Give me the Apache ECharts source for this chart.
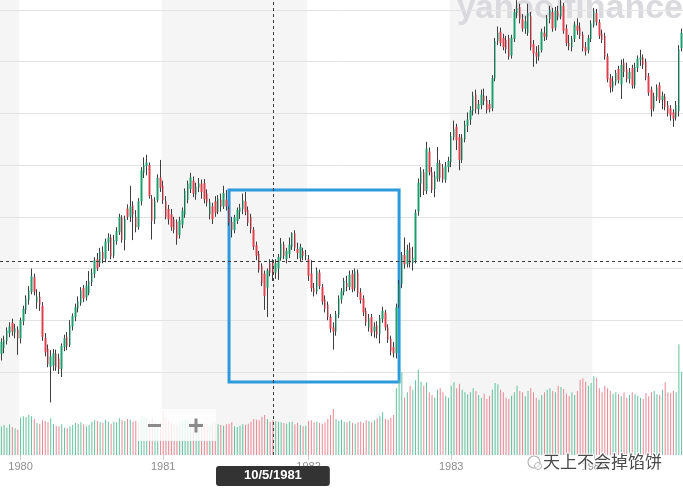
<!DOCTYPE html>
<html><head><meta charset="utf-8">
<script src="https://cdn.jsdelivr.net/npm/echarts@6/dist/echarts.min.js"></script>
<style>html,body{margin:0;padding:0;background:#fff}#c{width:683px;height:491px}</style>
</head><body><div id="c"></div>
<script>
// ---- categories: weekly candles, first week starting 1979-11-12 ----
const firstWeek = '1979-11-12';
const weekCount = 249;
const yearTickWeeks = ['1979-12-31','1980-12-29','1982-01-04','1983-01-03','1984-01-02'];
const yearLabels = ['1980','1981','1982','1983','1984'];
const crosshairWeek = '1981-10-05';
const crosshairPrice = 121.45;
const boxStart = ['1981-06-15', 135.2];
const boxEnd = ['1982-08-23', 98.05];

// ---- weekly [open, close, low, high] ----
const ohlc1980 = [
[103.5,105.8,102.2,106.5],[104.6,106.2,103.6,107.0],[106.0,108.0,105.3,108.6],[107.5,108.8,106.7,109.6],[109.5,107.8,107.0,110.3],
[107.6,108.4,106.5,109.3],[108.2,106.5,103.3,108.8],[106.5,110.0,105.5,110.5],[109.8,112.2,109.0,112.8],[112.0,114.2,111.2,114.8],
[113.8,115.7,113.0,116.6],[115.5,118.5,115.0,120.0],[118.3,115.5,114.8,119.0],[113.4,114.6,112.2,116.0],[114.5,113.0,111.8,115.5],
[112.8,106.8,106.0,113.5],[106.6,103.8,103.0,107.5],[104.5,101.5,100.9,105.3],[101.0,103.0,94.1,104.2],[101.2,103.6,100.2,104.4],
[103.5,100.9,100.2,104.3],[102.6,100.5,99.6,103.5],[100.6,105.0,99.0,105.5],[104.8,106.5,104.0,107.2],[106.8,105.0,104.2,107.7],
[105.2,109.0,104.8,110.0],[108.8,110.8,108.0,111.3],[110.6,112.5,109.8,113.2],[112.3,113.6,111.5,114.6],[113.3,115.8,112.8,116.4],
[116.2,114.2,113.5,116.8],[114.4,116.7,113.8,117.6],[115.2,117.6,114.8,119.5],[117.4,119.2,116.6,120.0],[119.0,121.6,118.2,122.2],
[121.8,120.0,119.5,123.0],[121.0,123.3,120.3,124.0],[123.2,121.8,121.0,124.3],[121.9,125.2,121.2,125.8],[125.0,126.0,123.4,126.8],
[126.0,122.3,121.8,126.6],[122.5,125.5,122.0,126.5],[125.3,127.2,124.6,128.0],[127.0,130.0,126.5,130.6],[129.8,125.5,125.0,130.3],
[125.5,129.6,123.5,130.2],[131.6,130.0,129.4,132.4],[130.0,132.0,129.0,136.0],[132.2,130.4,125.5,133.0],[130.0,128.0,127.0,131.3],
[128.0,133.0,127.5,133.6],[133.0,139.0,132.2,139.6],[138.5,140.0,137.5,141.5],[139.8,140.5,138.0,142.0],[140.0,134.0,133.5,140.5],
[133.5,129.2,125.6,134.2],[129.5,133.0,128.6,133.8],[133.2,137.5,132.8,138.2],[137.6,135.6,134.8,141.0]
];
const ohlc1981 = [
[136.0,133.2,132.5,137.0],[133.0,130.0,129.5,134.0],[131.5,129.5,128.5,132.3],[130.5,128.0,127.3,131.5],[129.5,127.5,126.8,130.0],
[129.0,125.8,124.6,129.5],[126.5,129.3,125.8,130.0],[128.5,131.2,127.8,131.8],[130.4,135.0,129.8,135.5],[133.3,136.4,132.6,137.0],
[135.4,137.6,134.6,138.5],[137.0,134.5,133.8,137.8],[134.3,135.8,133.3,136.6],[135.6,136.5,134.8,137.5],[136.4,134.8,133.5,137.2],
[136.5,133.4,132.6,137.3],[134.5,132.8,132.0,135.3],[130.5,132.8,129.5,133.5],[132.0,129.5,128.6,132.7],[133.0,130.8,130.0,134.0],
[131.0,133.5,130.5,134.2],[133.3,132.0,131.0,134.5],[132.0,134.6,131.5,136.0],[133.3,132.0,131.2,135.2],[131.5,128.8,128.3,132.0],
[129.0,127.5,126.0,130.0],[127.4,129.9,126.8,130.4],[129.2,131.3,128.6,131.8],[131.0,131.8,129.6,132.5],[131.5,133.2,130.5,134.5],
[133.0,131.0,130.3,134.8],[131.3,128.8,128.2,132.0],[130.0,127.6,126.8,130.6],[127.5,124.2,123.6,128.0],[124.5,122.5,121.6,125.2],
[122.8,119.8,119.2,123.4],[120.5,117.2,116.6,121.0],[119.0,114.7,112.0,119.6],[116.3,119.6,110.6,120.0],[121.0,119.2,118.5,121.8],
[121.2,118.8,117.6,121.8],[119.2,121.0,118.0,121.8],[120.0,122.2,117.8,122.8],[122.0,124.8,121.5,125.9],[124.6,122.4,121.8,125.2],
[121.8,123.4,121.0,124.0],[122.8,124.6,122.0,126.0],[124.2,126.8,123.6,127.0],[126.8,124.0,123.4,127.4],[123.8,123.0,121.8,125.0],
[122.0,124.2,121.4,124.8],[123.4,122.4,121.6,124.0]
];
const ohlc1982 = [
[122.4,122.6,121.6,123.6],[121.8,118.6,117.6,122.6],[119.0,116.2,115.5,121.6],[116.2,115.4,114.6,117.2],[115.5,119.6,115.0,120.2],
[119.2,116.6,116.0,119.8],[116.4,113.6,113.0,117.0],[114.0,112.2,111.5,114.8],[113.0,110.6,110.0,113.6],[110.6,108.4,107.6,111.2],
[108.6,107.8,104.3,109.6],[107.8,111.2,107.0,111.8],[111.0,114.2,110.4,114.8],[114.0,115.6,113.2,116.2],[115.4,117.6,114.8,118.2],
[117.2,116.4,115.6,118.6],[116.4,118.8,115.8,119.6],[119.0,116.0,115.4,119.7],[116.2,119.4,115.6,120.0],[119.2,115.2,114.5,119.8],
[115.4,113.9,113.2,116.2],[114.2,111.5,110.8,114.8],[111.8,109.5,108.9,112.4],[108.6,110.4,107.8,111.2],[110.6,107.6,106.9,111.2],
[107.8,108.8,106.6,109.6],[109.0,107.2,106.5,109.8],[107.4,110.4,105.5,111.0],[110.2,111.8,109.5,112.6],[111.5,108.6,108.0,112.0],
[108.6,106.2,105.6,109.2],[106.4,104.0,103.2,107.0],[104.8,103.6,102.8,105.8],[103.6,112.5,102.6,113.2],[113.0,117.0,112.4,117.8],
[117.0,122.6,116.2,123.2],[122.6,120.8,120.0,126.0],[120.8,123.6,120.2,124.6],[124.0,121.0,120.2,125.0],[121.0,122.0,119.6,124.2],
[121.6,130.8,121.0,131.4],[131.0,136.6,130.2,137.4],[136.4,138.8,133.8,139.6],[138.6,135.0,134.2,139.2],[135.0,143.2,134.4,144.5],
[142.6,138.6,138.0,143.4],[138.6,135.2,134.6,139.6],[135.4,137.8,133.8,138.8],[137.4,140.4,136.8,143.5],[140.4,137.5,136.8,141.0],
[139.5,137.2,136.6,140.2],[137.2,139.8,136.6,140.6]
];
const ohlc1983 = [
[139.6,140.8,138.6,141.6],[140.6,145.6,139.6,146.4],[145.4,147.0,144.8,148.6],[147.4,144.8,142.9,148.0],[145.4,141.0,139.0,146.0],
[141.0,145.2,140.4,146.0],[145.0,147.8,144.4,148.6],[147.6,148.8,146.4,150.2],[148.8,150.6,147.8,151.4],[150.4,153.4,149.6,154.2],
[153.6,150.8,150.0,154.6],[150.8,151.8,149.8,152.6],[151.6,153.6,150.8,154.6],[153.4,152.4,151.6,154.8],[152.6,150.6,150.0,153.4],
[151.8,150.8,150.2,152.6],[151.0,156.8,150.4,157.4],[156.8,164.0,156.2,164.6],[164.0,165.6,163.2,166.8],[165.8,163.6,163.0,166.6],
[164.6,162.8,162.2,165.4],[164.2,162.4,161.6,165.0],[164.6,161.0,160.4,165.2],[161.2,164.6,160.6,165.2],[164.4,169.6,163.8,170.2],
[169.4,170.4,168.4,171.9],[170.6,168.2,167.4,171.2],[168.2,166.4,165.8,169.2],[166.4,167.8,165.4,168.8],[165.6,169.4,165.0,171.2],
[168.8,162.8,162.2,169.6],[163.4,161.6,159.0,164.2],[161.8,161.0,159.6,163.0],[161.0,162.0,160.2,163.2],[162.2,165.8,161.8,166.4],
[165.6,164.8,164.0,166.8],[164.8,168.4,164.2,169.0],[168.2,170.0,167.4,170.8],[169.6,166.4,165.8,170.4],[166.6,169.8,166.0,170.6],
[169.8,168.8,168.0,170.8],[168.8,170.8,168.2,171.9],[170.8,166.0,165.4,171.4],[166.4,163.6,163.0,167.2],[163.6,163.0,162.2,165.2],
[162.8,164.4,162.0,165.0],[164.4,167.2,163.8,167.8],[167.0,166.0,165.2,168.4],[166.6,165.0,164.4,167.6],[165.2,162.6,162.0,165.8],
[162.8,162.0,161.2,163.8],[162.2,164.6,161.6,165.2]
];
const ohlc1984 = [
[164.4,167.4,163.8,168.0],[167.0,169.8,166.6,170.4],[169.4,167.6,167.0,170.2],[167.6,165.0,164.4,168.2],[165.4,164.2,163.6,166.2],
[165.0,161.0,160.4,165.6],[161.0,156.6,156.0,161.6],[156.8,155.0,154.0,157.6],[155.0,156.2,154.2,157.2],[156.0,157.8,155.4,158.4],
[158.6,156.4,155.8,159.2],[155.6,159.4,152.8,160.4],[159.8,158.0,157.0,160.6],[158.6,156.6,156.0,159.8],[156.6,158.0,155.8,158.8],
[158.8,155.4,154.8,159.4],[155.4,159.0,154.8,159.8],[158.8,160.6,158.0,161.2],[160.4,160.8,159.2,162.3],[160.8,159.4,158.6,161.4],
[160.0,157.0,156.4,160.6],[157.2,154.0,153.4,157.8],[154.6,150.8,149.4,155.2],[151.0,153.4,150.4,154.0],[153.2,155.0,152.4,155.6],
[155.4,152.6,152.0,156.0],[152.6,153.4,150.8,154.2],[153.2,151.2,150.6,153.8],[151.6,150.0,149.4,152.4],[151.0,149.6,148.6,151.6],
[150.2,149.0,147.4,150.8],[149.2,151.6,148.6,152.4],[150.4,162.4,149.4,163.2],[162.6,165.6,162.0,166.4]
];

// ---- weekly volume (millions of shares) ----
const vol1980 = [215,225,205,230,210,200,190,280,290,285, 300,290,270,240,235,260,255,245,275,230,
 220,215,230,205,200,215,225,240,235,245, 230,215,225,250,260,255,245,240,265,250,
 235,250,245,275,260,255,270,265,250,255, 245,290,285,275,260,280,250,230,245];
const vol1981 = [330,280,255,240,230,225,240,255,270,260, 245,250,255,245,240,235,230,220,235,240,
 230,225,220,230,235,245,215,210,220,230, 225,235,250,270,265,260,285,300,270,250,
 260,255,250,245,240,235,245,250,230,240, 225,215];
const vol1982 = [220,255,260,245,250,240,235,245,270,300, 345,270,255,265,250,245,255,240,235,245,
 250,240,260,255,245,260,275,290,320,270, 265,280,300,500,560,620,430,470,520,490,
 560,640,550,520,545,470,450,430,490,500, 470,445];
const vol1983 = [430,520,545,500,535,490,470,455,470,500, 480,450,430,460,420,445,490,540,530,490,
 470,430,420,445,470,520,480,470,440,480, 500,470,430,415,450,470,490,500,480,470,
 520,510,495,460,440,470,450,480,565,575, 550,520];
const vol1984 = [540,590,580,500,470,520,500,480,460,470, 455,440,470,430,450,470,460,445,430,420,
 465,440,470,480,455,450,490,545,470,465, 480,470,830,620];

// ---- build ----
const weeks = [];
(function(){ const d = new Date(firstWeek + 'T00:00:00Z');
  for (let i = 0; i < weekCount; i++) { weeks.push(d.toISOString().slice(0,10)); d.setUTCDate(d.getUTCDate() + 7); } })();
const ohlc = [].concat(ohlc1980, ohlc1981, ohlc1982, ohlc1983, ohlc1984);
const volume = [].concat(vol1980, vol1981, vol1982, vol1983, vol1984);
const bodies = ohlc.map(r => [r[0], r[1], Math.min(r[0], r[1]), Math.max(r[0], r[1])]);
const tickSet = new Set(yearTickWeeks);
const isYearTick = (i, v) => tickSet.has(v);
const crossLabel = (() => { const p = crosshairWeek.split('-'); return (+p[1]) + '/' + (+p[2]) + '/' + p[0]; })();

const UP = '#1d9e6e', DOWN = '#e0414e', WICK = '#3d3d3d';
const UPV = '#62c29d', DOWNV = '#e98792';
const FONT = '"Liberation Sans", Arial, Helvetica, sans-serif';
const GLYPH = '#8a8a8a';

const chart = echarts.init(document.getElementById('c'), null, {renderer: 'canvas'});
chart.setOption({
  animation: false,
  textStyle: {fontFamily: FONT},
  grid: [
    {left: 0, right: 0, top: 0, bottom: 67.4},
    {left: 0, right: 0, top: 0, bottom: 36}
  ],
  xAxis: [
    {type: 'category', gridIndex: 0, data: weeks, show: false},
    {type: 'category', gridIndex: 1, data: weeks, z: 0,
     axisLine: {show: false},
     axisTick: {show: true, alignWithLabel: true, interval: isYearTick, length: 5, lineStyle: {color: '#cfcfcf'}},
     axisLabel: {interval: isYearTick, formatter: v => yearLabels[yearTickWeeks.indexOf(v)] || '',
                 color: '#8e8e8e', fontSize: 11, margin: 6, fontFamily: FONT},
     splitLine: {show: false},
     splitArea: {show: true, interval: isYearTick, areaStyle: {color: ['#f5f5f5', '#ffffff']}}}
  ],
  yAxis: [
    {type: 'value', gridIndex: 0, min: 90, max: 171.934, interval: 10, z: 1,
     axisLabel: {show: false}, axisLine: {show: false}, axisTick: {show: false},
     splitLine: {show: true, showMinLine: false, showMaxLine: false, lineStyle: {color: '#e3e3e3', width: 1}}},
    {type: 'value', gridIndex: 1, min: 0, max: 3412.5, show: false, splitLine: {show: false}}
  ],
  series: [
    {type: 'bar', xAxisIndex: 1, yAxisIndex: 1, data: volume, barWidth: 1, silent: true,
     itemStyle: {color: p => ohlc[p.dataIndex][1] >= ohlc[p.dataIndex][0] ? UPV : DOWNV},
     markLine: {silent: true, symbol: ['none', 'none'],
       lineStyle: {type: [3, 3], color: '#3a3a3a', width: 1},
       label: {show: true, position: 'start', formatter: crossLabel, color: '#fff', fontWeight: 'bold',
               fontSize: 13, fontFamily: FONT, backgroundColor: '#333333', borderRadius: 3,
               padding: [3, 28, 4, 28], lineHeight: 13, distance: 11},
       emphasis: {disabled: true},
       data: [{xAxis: crosshairWeek}]}},
    {type: 'candlestick', xAxisIndex: 0, yAxisIndex: 0, data: ohlc, barWidth: 1, silent: true,
     itemStyle: {color: WICK, color0: WICK, borderColor: WICK, borderColor0: WICK, borderWidth: 1}},
    {type: 'candlestick', xAxisIndex: 0, yAxisIndex: 0, data: bodies, barWidth: 2, silent: true,
     itemStyle: {color: UP, color0: DOWN, borderColor: UP, borderColor0: DOWN, borderWidth: 0},
     markLine: {silent: true, symbol: ['none', 'none'], label: {show: false},
       lineStyle: {type: [3, 3], color: '#3a3a3a', width: 1},
       emphasis: {disabled: true},
       data: [{yAxis: crosshairPrice}]},
     markArea: {silent: true, label: {show: false},
       itemStyle: {color: 'rgba(0,0,0,0)', borderColor: '#2d9ade', borderWidth: 3},
       emphasis: {disabled: true},
       data: [[{xAxis: boxStart[0], yAxis: boxStart[1]}, {xAxis: boxEnd[0], yAxis: boxEnd[1]}]]}}
  ],
  graphic: {elements: [
    {type: 'text', id: 'wm1', x: 457, y: -8, z: 1, silent: true,
     style: {text: 'yahoo!', font: 'bold 33px "Liberation Sans", Arial, sans-serif', fill: '#dadade', verticalAlign: 'top'}},
    {type: 'text', id: 'wm2', x: 564, y: -8, z: 1, silent: true,
     style: {text: 'finance', font: 'bold 34px "Liberation Sans", Arial, sans-serif', fill: '#dadade', verticalAlign: 'top'}},
    {type: 'rect', id: 'zbox', z: 50, silent: true, shape: {x: 137, y: 409, width: 79, height: 32},
     style: {fill: 'rgba(255,255,255,0.82)'}},
    {type: 'rect', id: 'zminus', z: 51, silent: true, shape: {x: 148, y: 424, width: 13, height: 3}, style: {fill: GLYPH}},
    {type: 'rect', id: 'zplusH', z: 51, silent: true, shape: {x: 189, y: 424, width: 14, height: 3}, style: {fill: GLYPH}},
    {type: 'rect', id: 'zplusV', z: 51, silent: true, shape: {x: 194.5, y: 418.5, width: 3, height: 14}, style: {fill: GLYPH}},
    {type: 'circle', id: 'wc1', z: 60, silent: true, shape: {cx: 534, cy: 462, r: 6},
     style: {fill: 'rgba(255,255,255,0.6)', stroke: '#b5b5b5', lineWidth: 1.2}},
    {type: 'circle', id: 'wc2', z: 60, silent: true, shape: {cx: 538, cy: 466, r: 3.5},
     style: {fill: 'rgba(255,255,255,0.6)', stroke: '#b5b5b5', lineWidth: 1}},
    {type: 'text', id: 'wct', z: 60, silent: true, x: 543, y: 453,
     style: {text: '天上不会掉馅饼', font: '17px "Noto Sans CJK SC", sans-serif', fill: '#4a4a4a',
             stroke: '#ffffff', lineWidth: 2, verticalAlign: 'top'}}
  ]}
});
</script>
</body></html>
